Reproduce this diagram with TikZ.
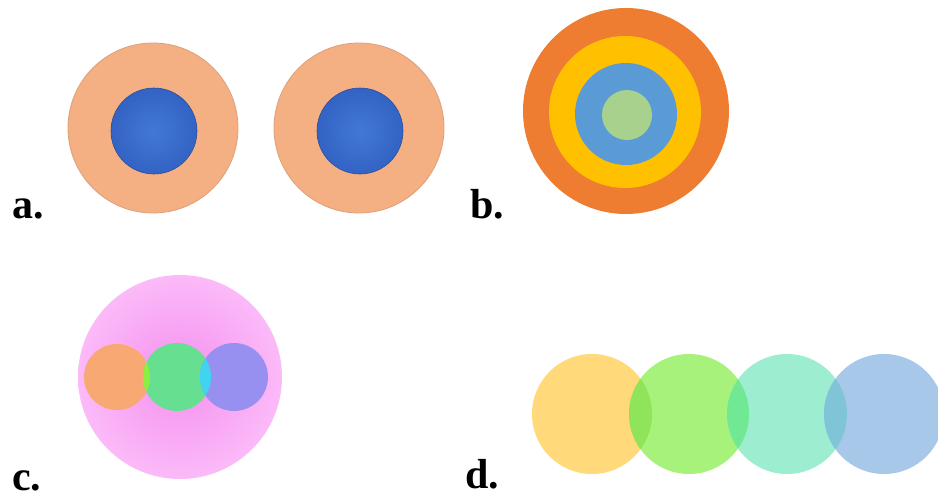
\documentclass[tikz,border=0pt]{standalone}
\usepackage{fontspec}
\setmainfont{Liberation Serif}
\usepackage{tikz}

% colours of the four panels
\definecolor{peach}{HTML}{F4B083}
\definecolor{peachedge}{HTML}{DDA07A}
\definecolor{coreblue}{HTML}{3363C4}
\definecolor{corebluelight}{HTML}{4378D6}
\definecolor{ringorange}{HTML}{EE7D31}
\definecolor{ringyellow}{HTML}{FFC000}
\definecolor{ringblue}{HTML}{5B9BD5}
\definecolor{ringgreen}{HTML}{A9D18E}
\definecolor{pinkcore}{HTML}{F590EF}
\definecolor{pinkedge}{HTML}{FBBAF8}
\definecolor{corange}{HTML}{F8A872}
\definecolor{cgreen}{HTML}{66E090}
\definecolor{cpurple}{HTML}{9890F0}
\definecolor{clime}{HTML}{8CF040}
\definecolor{ccyan}{HTML}{40D4F0}
\definecolor{dyellow}{HTML}{FFD97A}
\definecolor{dgreen}{HTML}{A6F27A}
\definecolor{dteal}{HTML}{9DEDD0}
\definecolor{dblue}{HTML}{A7C8E8}
\definecolor{dyg}{HTML}{90E45A}
\definecolor{dgt}{HTML}{70E894}
\definecolor{dtb}{HTML}{80C4D8}

\begin{document}
\begin{tikzpicture}[x=1pt, y=-1pt,
    panellabel/.style={anchor=base west, inner sep=0pt, font=\fontsize{42}{42}\selectfont\bfseries},
    cellbody/.style={fill=peach, draw=peachedge, line width=0.8pt},
    cellcore/.style={inner color=corebluelight, outer color=coreblue, draw=coreblue!80!black, line width=0.6pt},
]
\clip (0,0) rectangle (938,498);
\fill[white] (0,0) rectangle (938,498);

% a. two cells
\foreach \cx in {153,359} {
  \draw[cellbody] (\cx,128) circle (85);
  \shade[cellcore] (\cx+1,131) circle (43);
}
\node[panellabel] (lbla) at (12,218) {a.};

% b. rings
\fill[ringorange] (626,111) circle (103);
\fill[ringyellow] (625,112) circle (76);
\fill[ringblue] (626,114) circle (51);
\fill[ringgreen] (627,115) circle (25);
\node[panellabel] (lblb) at (470,218) {b.};

% c. sphere with three droplets
\shade[inner color=pinkcore, outer color=pinkedge] (180,377) circle (102);
\fill[corange] (117,377) circle (33);
\fill[cgreen] (177,377) circle (34);
\fill[cpurple] (234,377) circle (34);
\begin{scope}
  \clip (117,377) circle (33);
  \fill[clime] (177,377) circle (34);
\end{scope}
\begin{scope}
  \clip (177,377) circle (34);
  \fill[ccyan] (234,377) circle (34);
\end{scope}
\node[panellabel] (lblc) at (12,490) {c.};

% d. chain of circles
\fill[dyellow] (592,414) circle (60);
\fill[dgreen] (689,414) circle (60);
\fill[dteal] (787,414) circle (60);
\fill[dblue] (884,414) circle (60);
\begin{scope}
  \clip (592,414) circle (60);
  \fill[dyg] (689,414) circle (60);
\end{scope}
\begin{scope}
  \clip (689,414) circle (60);
  \fill[dgt] (787,414) circle (60);
\end{scope}
\begin{scope}
  \clip (787,414) circle (60);
  \fill[dtb] (884,414) circle (60);
\end{scope}
\node[panellabel] (lbld) at (465,488) {d.};
\end{tikzpicture}
\end{document}
